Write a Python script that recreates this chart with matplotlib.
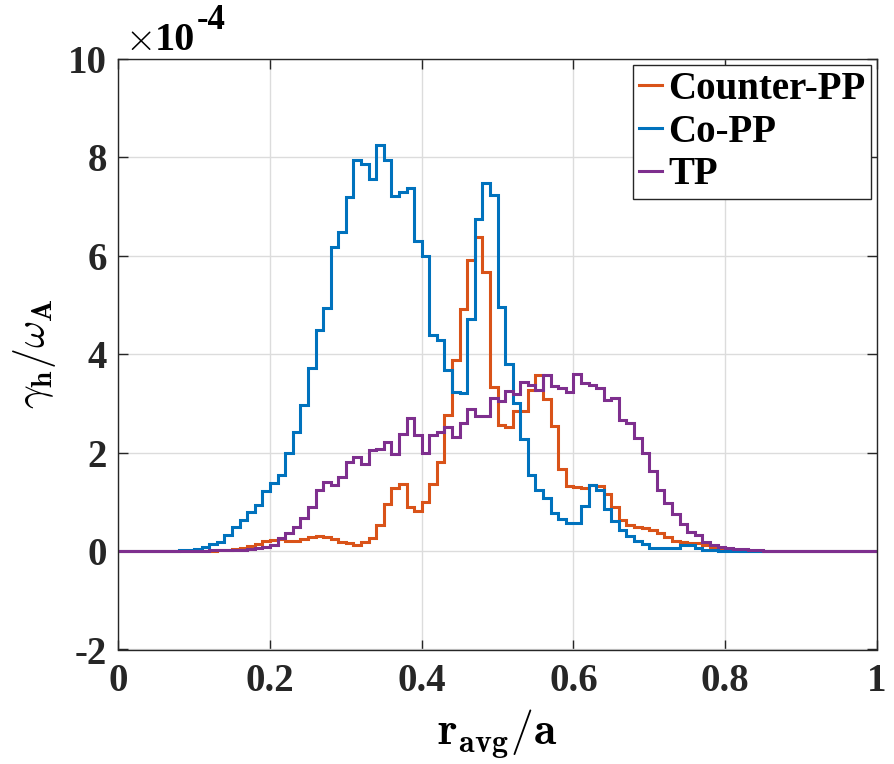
import numpy as np
import matplotlib
matplotlib.use("Agg")
import matplotlib.pyplot as plt

# bin edges of r_avg/a (100 bins of width 0.01)
edges = np.linspace(0.0, 1.0, 101)

# growth rate gamma_h/omega_A in units of 1e-4, one value per bin
counter_pp = [
    0, 0, 0, 0, 0, 0, 0, 0, 0, 0,
    0, 0, 0.01, 0.02, 0.03, 0.05, 0.07, 0.10, 0.15, 0.21,
    0.23, 0.24, 0.20, 0.20, 0.24, 0.28, 0.30, 0.28, 0.24, 0.19,
    0.16, 0.12, 0.19, 0.26, 0.53, 0.95, 1.29, 1.36, 0.89, 0.82,
    1.00, 1.37, 1.81, 2.76, 3.89, 4.91, 5.92, 6.39, 5.67, 3.33,
    2.57, 2.52, 2.85, 2.85, 3.28, 3.57, 3.10, 2.54, 1.66, 1.32,
    1.31, 1.29, 1.34, 1.32, 1.17, 0.90, 0.63, 0.53, 0.49, 0.46,
    0.43, 0.36, 0.29, 0.21, 0.18, 0.17, 0.16, 0.12, 0.07, 0.04,
    0.03, 0.02, 0.01, 0, 0, 0, 0, 0, 0, 0,
    0, 0, 0, 0, 0, 0, 0, 0, 0, 0,
]
co_pp = [
    0, 0, 0, 0, 0, 0, 0, 0.01, 0.02, 0.03,
    0.05, 0.09, 0.14, 0.19, 0.32, 0.48, 0.64, 0.79, 0.93, 1.22,
    1.39, 1.54, 2.00, 2.42, 2.96, 3.73, 4.49, 4.95, 6.18, 6.48,
    7.19, 7.95, 7.87, 7.57, 8.26, 7.95, 7.21, 7.30, 7.38, 6.31,
    5.99, 4.40, 4.29, 3.68, 3.23, 3.22, 4.72, 6.75, 7.48, 7.23,
    4.97, 3.80, 3.00, 2.27, 1.54, 1.24, 1.07, 0.77, 0.66, 0.58,
    0.58, 0.91, 1.35, 1.25, 0.85, 0.62, 0.43, 0.30, 0.21, 0.14,
    0.07, 0.07, 0.06, 0.06, 0.12, 0.12, 0.07, 0.03, 0.02, 0.01,
    0.01, 0, 0, 0, 0, 0, 0, 0, 0, 0,
    0, 0, 0, 0, 0, 0, 0, 0, 0, 0,
]
tp = [
    0, 0, 0, 0, 0, 0, 0, 0, 0, 0,
    0.01, 0.01, 0.02, 0.02, 0.02, 0.03, 0.03, 0.05, 0.07, 0.09,
    0.12, 0.26, 0.36, 0.48, 0.68, 0.90, 1.25, 1.41, 1.34, 1.51,
    1.81, 1.92, 1.77, 2.05, 2.08, 2.22, 1.98, 2.38, 2.71, 2.36,
    2.00, 2.35, 2.42, 2.53, 2.32, 2.61, 2.89, 2.75, 2.75, 3.11,
    3.04, 3.26, 3.19, 3.44, 3.37, 3.27, 3.57, 3.35, 3.32, 3.24,
    3.59, 3.42, 3.38, 3.32, 3.07, 3.12, 2.67, 2.61, 2.29, 2.00,
    1.63, 1.25, 0.98, 0.75, 0.56, 0.39, 0.32, 0.19, 0.12, 0.09,
    0.07, 0.05, 0.04, 0.03, 0.02, 0.01, 0, 0, 0, 0,
    0, 0, 0, 0, 0, 0, 0, 0, 0, 0,
]

series_labels = ["Counter-PP", "Co-PP", "TP"]
series_colors = ["#D95319", "#0072BD", "#7E2F8E"]

xticks = [0, 0.2, 0.4, 0.6, 0.8, 1]
xticklabels = ["0", "0.2", "0.4", "0.6", "0.8", "1"]
yticks = [-2, 0, 2, 4, 6, 8, 10]
yticklabels = ["-2", "0", "2", "4", "6", "8", "10"]

plt.rcParams["mathtext.fontset"] = "cm"
serif = ["Liberation Serif", "DejaVu Serif"]

W, H = 894, 764
fig = plt.figure(figsize=(W / 100, H / 100), dpi=100)
ax = fig.add_axes([118.3 / W, (H - 649.5) / H, 758.5 / W, 590.5 / H])

for vals, lab, col in zip([counter_pp, co_pp, tp], series_labels, series_colors):
    ax.stairs(vals, edges, color=col, linewidth=2.2, label=lab, baseline=None)

ax.set_xlim(0, 1)
ax.set_ylim(-2, 10)
ax.set_xticks(xticks)
ax.set_xticklabels(xticklabels, family=serif, fontweight="bold", fontsize=28)
ax.set_yticks(yticks)
ax.set_yticklabels(yticklabels, family=serif, fontweight="bold", fontsize=28)
ax.tick_params(direction="in", length=7, width=1.0, top=True, right=True,
               colors="#262626")
ax.tick_params(axis="x", pad=10)
ax.tick_params(axis="y", pad=8)
ax.grid(True, color="#dcdcdc", linewidth=1.0)
ax.set_axisbelow(True)
for s in ax.spines.values():
    s.set_linewidth(1.0)
    s.set_color("#262626")

ax.set_xlabel(r"$\mathbf{r_{avg}/a}$", fontsize=33)
ax.xaxis.set_label_coords(0.5, -0.098)
ax.set_ylabel(r"$\gamma_{\mathbf{h}}/\omega_{\mathbf{A}}$", fontsize=30)
ax.yaxis.set_label_coords(-0.08, 0.5)

# exponent label (x10^-4)
fig.text(125 / W, 1 - 50 / H, r"$\times$", fontsize=28, ha="left", va="baseline")
fig.text(155 / W, 1 - 50 / H, "10", family=serif, fontweight="bold",
         fontsize=29, ha="left", va="baseline")
fig.text(197 / W, 1 - 29 / H, "-4", family=serif, fontweight="bold",
         fontsize=25, ha="left", va="baseline")

leg = ax.legend(loc="upper right", prop={"family": serif, "weight": "bold", "size": 28},
                handlelength=0.6, handletextpad=0.15, labelspacing=0.15,
                borderpad=0.15, borderaxespad=0.15, fancybox=False, framealpha=1,
                edgecolor="#262626")
leg.get_frame().set_linewidth(1.0)

fig.savefig("out.png", dpi=100)
